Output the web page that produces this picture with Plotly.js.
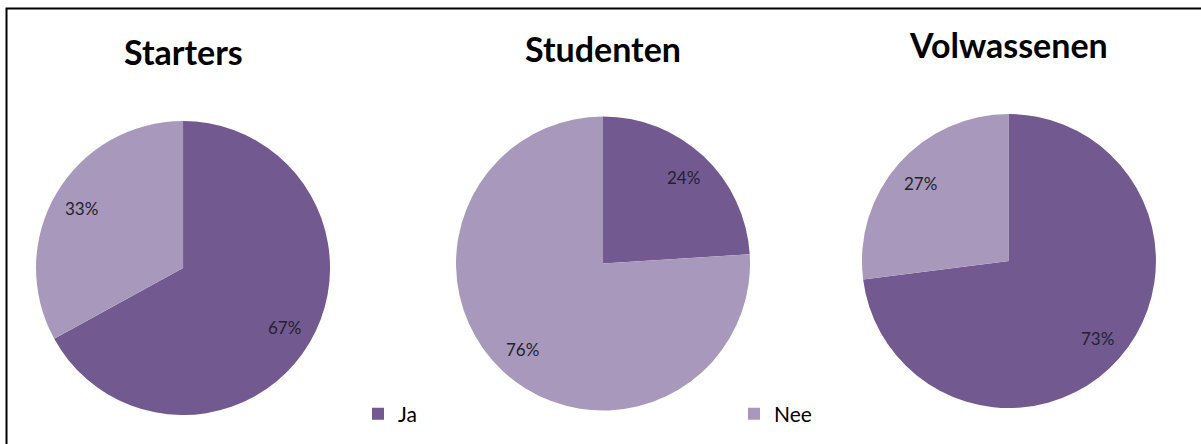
<!DOCTYPE html>
<html>
<head>
<meta charset="utf-8">
<script src="https://cdn.plot.ly/plotly-3.0.1.min.js"></script>
<style>html,body{margin:0;padding:0;background:#fff;overflow:hidden;}#chart{width:1201px;height:444px;}</style>
</head>
<body>
<div id="chart"></div>
<script>
const categories = ["Ja", "Nee"];
const groups = ["Starters", "Studenten", "Volwassenen"];
const startersValues = [67, 33];
const studentenValues = [24, 76];
const volwassenenValues = [73, 27];
const sliceColors = ["#725990", "#A899BC"];

const W = 1201, H = 444;
const seriesValues = [startersValues, studentenValues, volwassenenValues];
const domains = [
  {x: [0.0300, 0.2748], y: [0.0653, 0.7275]},
  {x: [0.3797, 0.6245], y: [0.0743, 0.7387]},
  {x: [0.7177, 0.9625], y: [0.0811, 0.7432]}
];
const titleY = [1 - 51/H, 1 - 48/H, 1 - 45/H];

const traces = seriesValues.map((vals, i) => ({
  type: "pie",
  labels: categories,
  values: vals,
  name: groups[i],
  domain: domains[i],
  sort: false,
  direction: "clockwise",
  rotation: 0,
  marker: {colors: sliceColors, line: {width: 0}},
  textinfo: "none",
  hoverinfo: "none",
  showlegend: i === 0
}));

const annotations = groups.map((g, i) => ({
  text: "<b>" + g + "</b>",
  xref: "paper", yref: "paper",
  x: (domains[i].x[0] + domains[i].x[1]) / 2,
  y: titleY[i],
  xanchor: "center", yanchor: "middle",
  showarrow: false,
  font: {family: "Lato, sans-serif", size: 34, color: "#000"}
}));

// percentage labels placed along each slice's bisector (derived from the values)
seriesValues.forEach((vals, i) => {
  const d = domains[i];
  const cx = (d.x[0] + d.x[1]) / 2, cy = (d.y[0] + d.y[1]) / 2;
  const r = Math.min((d.x[1] - d.x[0]) * W, (d.y[1] - d.y[0]) * H) / 2;
  const total = vals.reduce((a, b) => a + b, 0);
  let cum = 0;
  vals.forEach(v => {
    const th = 2 * Math.PI * (cum + v / 2) / total;
    cum += v;
    annotations.push({
      text: Math.round(100 * v / total) + "%",
      xref: "paper", yref: "paper",
      x: cx + 0.8 * r * Math.sin(th) / W,
      y: cy + 0.8 * r * Math.cos(th) / H,
      xanchor: "center", yanchor: "middle",
      showarrow: false,
      font: {family: "Lato, sans-serif", size: 17, color: "#22222e"}
    });
  });
});

const layout = {
  width: W, height: H,
  margin: {l: 0, r: 0, t: 0, b: 0, autoexpand: false},
  paper_bgcolor: "#fff",
  showlegend: true,
  legend: {
    orientation: "h",
    x: 358/W, xanchor: "left",
    y: 30/H, yanchor: "middle",
    entrywidth: 331, entrywidthmode: "pixels",
    font: {family: "Lato, sans-serif", size: 21, color: "#000"},
    bgcolor: "rgba(0,0,0,0)",
    itemclick: false, itemdoubleclick: false
  },
  annotations: annotations,
  shapes: [{
    type: "rect", xref: "paper", yref: "paper",
    x0: 6.5/W, x1: 1.02, y0: -0.05, y1: 1 - 8.5/H,
    line: {color: "#000", width: 2}, fillcolor: "rgba(0,0,0,0)"
  }]
};

Plotly.newPlot("chart", traces, layout, {staticPlot: true, displayModeBar: false});
</script>
</body>
</html>
